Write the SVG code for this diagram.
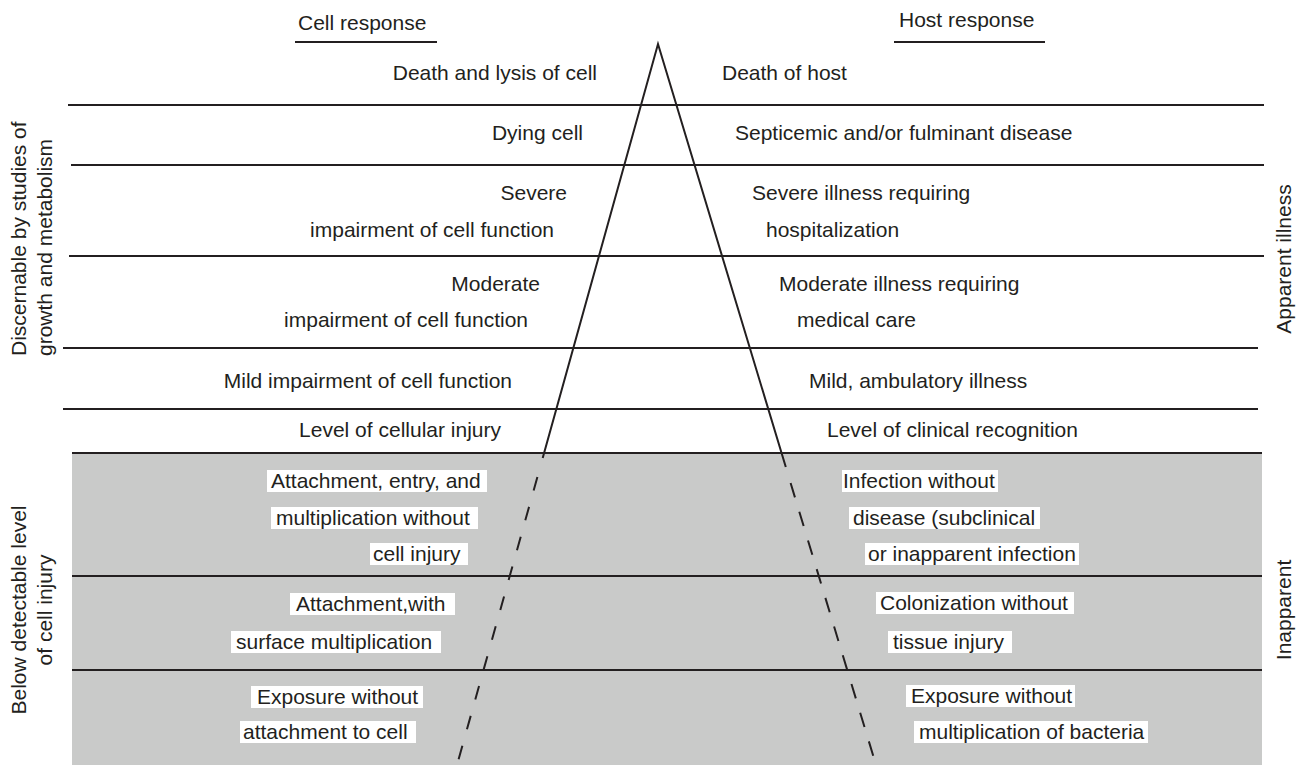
<svg xmlns="http://www.w3.org/2000/svg" width="1305" height="765" viewBox="0 0 1305 765">
<style>
.t{font-family:"Liberation Sans",Arial,Helvetica,sans-serif;font-size:21px;fill:#231f20}
.e{text-anchor:end}
.m{text-anchor:middle}
.rule{stroke:#231f20;stroke-width:2.2;fill:none}
.edge{stroke:#231f20;stroke-width:2;fill:none}
.dash{stroke:#231f20;stroke-width:2;fill:none;stroke-dasharray:14 17}
.dash2{stroke:#231f20;stroke-width:2;fill:none;stroke-dasharray:15 15}
.box{fill:#ffffff}
</style>
<rect width="1305" height="765" fill="#ffffff"/>
<rect x="72" y="453" width="1190" height="312" fill="#c9cac9"/>
<g id="rules">
<line class="rule" x1="68" y1="105" x2="1264" y2="105"/>
<line class="rule" x1="71" y1="165" x2="1264" y2="165"/>
<line class="rule" x1="69" y1="256" x2="1264" y2="256"/>
<line class="rule" x1="63" y1="348" x2="1258" y2="348"/>
<line class="rule" x1="63" y1="409" x2="1258" y2="409"/>
<line class="rule" x1="72" y1="453" x2="1262" y2="453"/>
<line class="rule" x1="72" y1="576" x2="1262" y2="576"/>
<line class="rule" x1="72" y1="670" x2="1262" y2="670"/>
</g>
<g id="headers">
<g id="cell-response"><text class="t" x="298" y="30">Cell response</text><line class="rule" stroke-width="2.6" x1="295" y1="42" x2="437" y2="42"/></g>
<g id="host-response"><text class="t" x="899" y="27">Host response</text><line class="rule" stroke-width="2.6" x1="894" y1="42" x2="1045" y2="42"/></g>
</g>
<g id="side-labels">
<g id="discernable"><text class="t" transform="translate(26,356) rotate(-90)">Discernable by studies of</text><text class="t" transform="translate(52,356) rotate(-90)">growth and metabolism</text></g>
<g id="below-detectable"><text class="t m" transform="translate(26,610) rotate(-90)">Below detectable level</text><text class="t m" transform="translate(52,610) rotate(-90)">of cell injury</text></g>
<g id="apparent-illness"><text class="t m" transform="translate(1291,259) rotate(-90)">Apparent illness</text></g>
<g id="inapparent"><text class="t m" transform="translate(1291,610) rotate(-90)">Inapparent</text></g>
</g>
<g id="cell-levels">
<g id="c-death"><text class="t e" x="597" y="80">Death and lysis of cell</text></g>
<g id="c-dying"><text class="t e" x="583" y="140">Dying cell</text></g>
<g id="c-severe"><text class="t e" x="567" y="200">Severe</text><text class="t e" x="554" y="237">impairment of cell function</text></g>
<g id="c-moderate"><text class="t e" x="540" y="291">Moderate</text><text class="t e" x="528" y="327">impairment of cell function</text></g>
<g id="c-mild"><text class="t e" x="512" y="388">Mild impairment of cell function</text></g>
<g id="c-level"><text class="t e" x="501" y="437">Level of cellular injury</text></g>
</g>
<g id="host-levels">
<g id="h-death"><text class="t" x="722" y="80">Death of host</text></g>
<g id="h-septic"><text class="t" x="735" y="140">Septicemic and/or fulminant disease</text></g>
<g id="h-severe"><text class="t" x="752" y="200">Severe illness requiring</text><text class="t" x="766" y="237">hospitalization</text></g>
<g id="h-moderate"><text class="t" x="779" y="291">Moderate illness requiring</text><text class="t" x="797" y="327">medical care</text></g>
<g id="h-mild"><text class="t" x="809" y="388">Mild, ambulatory illness</text></g>
<g id="h-level"><text class="t" x="827" y="437">Level of clinical recognition</text></g>
</g>
<g id="cell-subclinical">
<g id="c-attach-entry">
<rect class="box" x="267" y="470" width="220" height="22"/><text class="t" x="271" y="488">Attachment, entry, and</text>
<rect class="box" x="271" y="507" width="207" height="22"/><text class="t" x="276" y="525">multiplication without</text>
<rect class="box" x="370" y="543" width="98" height="22"/><text class="t" x="373" y="561">cell injury</text>
</g>
<g id="c-attach-surface">
<rect class="box" x="290" y="593" width="165" height="22"/><text class="t" x="296" y="611">Attachment,with</text>
<rect class="box" x="231" y="631" width="210" height="22"/><text class="t" x="236" y="649">surface multiplication</text>
</g>
<g id="c-exposure">
<rect class="box" x="251" y="686" width="172" height="22"/><text class="t" x="257" y="704">Exposure without</text>
<rect class="box" x="240" y="721" width="176" height="22"/><text class="t" x="243" y="739">attachment to cell</text>
</g>
</g>
<g id="host-subclinical">
<g id="h-infection">
<rect class="box" x="842" y="470" width="156" height="22"/><text class="t" x="843" y="488">Infection without</text>
<rect class="box" x="849" y="507" width="191" height="22"/><text class="t" x="853" y="525">disease (subclinical</text>
<rect class="box" x="865" y="543" width="214" height="22"/><text class="t" x="868" y="561">or inapparent infection</text>
</g>
<g id="h-colonization">
<rect class="box" x="876" y="592" width="198" height="22"/><text class="t" x="880" y="610">Colonization without</text>
<rect class="box" x="888" y="631" width="124" height="22"/><text class="t" x="893" y="649">tissue injury</text>
</g>
<g id="h-exposure">
<rect class="box" x="906" y="685" width="169" height="22"/><text class="t" x="911" y="703">Exposure without</text>
<rect class="box" x="914" y="721" width="234" height="22"/><text class="t" x="919" y="739">multiplication of bacteria</text>
</g>
</g>
<g id="connectors">
<polyline class="edge" points="542.7,458 658,44 785.8,467"/>
<line class="dash" x1="537.4" y1="477" x2="457" y2="765"/>
<line class="dash2" x1="790.6" y1="483" x2="876" y2="765"/>
</g>
</svg>
